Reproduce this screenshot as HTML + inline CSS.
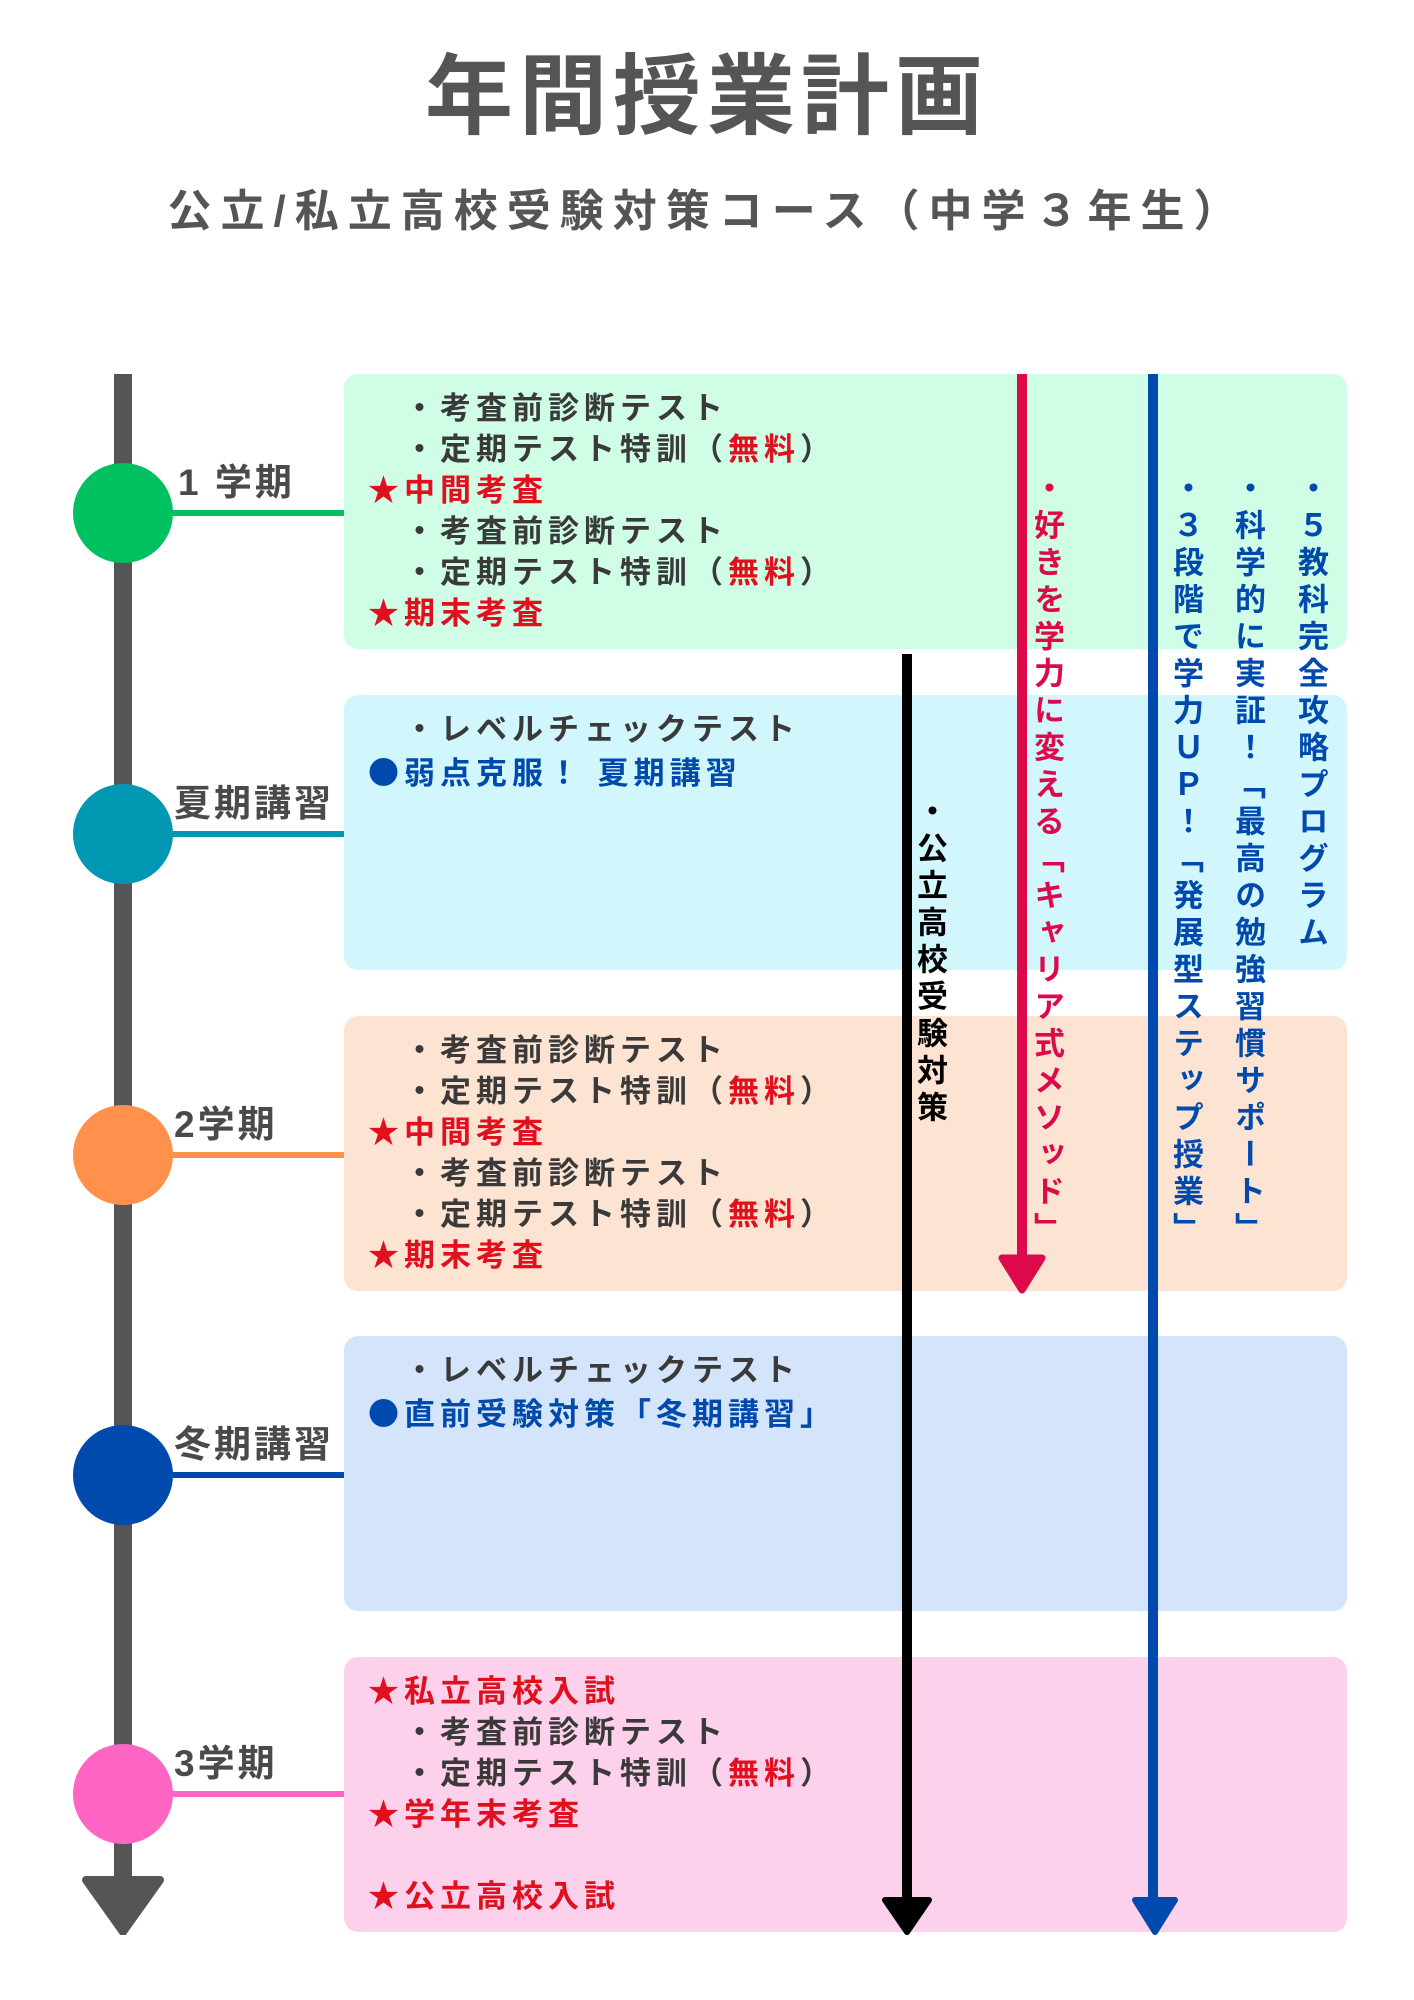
<!DOCTYPE html>
<html><head><meta charset="utf-8">
<style>
*{margin:0;padding:0;box-sizing:border-box}
body{width:1414px;height:2000px;background:#fff;position:relative;overflow:hidden;font-family:"Liberation Sans","Noto Sans CJK JP",sans-serif;font-weight:bold;color:#3a3a3a}
.a{position:absolute}
.box{position:absolute;left:344px;width:1003px;height:275px;border-radius:14px}
.ln{position:absolute;font-size:31px;letter-spacing:5px;line-height:41px;white-space:nowrap}
.r{color:#e0101e}
.c{font-family:"Noto Sans CJK JP",sans-serif}
.lbl{position:absolute;left:174px;font-size:37px;letter-spacing:3px;color:#4a4a4a;line-height:40px}
.circ{position:absolute;left:73px;width:100px;height:100px;border-radius:50%}
.con{position:absolute;left:150px;width:194px;height:6px}
.v{position:absolute;writing-mode:vertical-rl;font-size:31px;letter-spacing:6px;line-height:36px;white-space:nowrap}
</style></head><body>
<div class="a" style="left:0;width:1414px;top:42px;text-align:center;font-size:88px;letter-spacing:6px;color:#555;line-height:110px">年間授業計画</div>
<div class="a" style="left:0;width:1414px;top:184px;text-align:center;font-size:44px;letter-spacing:9px;color:#555;line-height:56px">公立/私立高校受験対策コース（中学３年生）</div>

<div class="box" style="top:374px;background:#cffde6"></div>
<div class="box" style="top:695px;background:#d1f7fd"></div>
<div class="box" style="top:1016px;background:#fde3d1"></div>
<div class="box" style="top:1336px;background:#d3e4fb"></div>
<div class="box" style="top:1657px;background:#fdd0ec"></div>

<div class="a" style="left:114px;top:374px;width:18px;height:1520px;background:#555"></div>
<svg class="a" style="left:80px;top:1875px" width="86" height="60"><path d="M6 5 L80 5 L43 57 Z" fill="#555" stroke="#555" stroke-width="8" stroke-linejoin="round"/></svg>

<div class="con" style="top:510px;background:#00c060"></div>
<div class="circ" style="top:463px;background:#00c060"></div>
<div class="lbl" style="top:463px;left:178px">1 学期</div>
<div class="con" style="top:831px;background:#0097b2"></div>
<div class="circ" style="top:784px;background:#0097b2"></div>
<div class="lbl" style="top:784px">夏期講習</div>
<div class="con" style="top:1152px;background:#ff914d"></div>
<div class="circ" style="top:1105px;background:#ff914d"></div>
<div class="lbl" style="top:1105px">2学期</div>
<div class="con" style="top:1472px;background:#004aad"></div>
<div class="circ" style="top:1425px;background:#004aad"></div>
<div class="lbl" style="top:1425px">冬期講習</div>
<div class="con" style="top:1791px;background:#ff66c4"></div>
<div class="circ" style="top:1744px;background:#ff66c4"></div>
<div class="lbl" style="top:1744px">3学期</div>

<div class="ln" style="left:368px;top:388px">　・考査前診断テスト<br>　・定期テスト特訓（<span class="r">無料</span>）<br><span class="r">★中間考査</span><br>　・考査前診断テスト<br>　・定期テスト特訓（<span class="r">無料</span>）<br><span class="r">★期末考査</span></div>
<div class="ln" style="left:368px;top:709px">　・レベルチェックテスト<br><span style="color:#004aad"><span class="c">●</span>弱点克服！ 夏期講習</span></div>
<div class="ln" style="left:368px;top:1030px">　・考査前診断テスト<br>　・定期テスト特訓（<span class="r">無料</span>）<br><span class="r">★中間考査</span><br>　・考査前診断テスト<br>　・定期テスト特訓（<span class="r">無料</span>）<br><span class="r">★期末考査</span></div>
<div class="ln" style="left:368px;top:1350px">　・レベルチェックテスト<br><span style="color:#004aad"><span class="c">●</span>直前受験対策「冬期講習」</span></div>
<div class="ln" style="left:368px;top:1671px"><span class="r">★私立高校入試</span><br>　・考査前診断テスト<br>　・定期テスト特訓（<span class="r">無料</span>）<br><span class="r">★学年末考査</span><br><br><span class="r">★公立高校入試</span></div>

<div class="a" style="left:902px;top:654px;width:10px;height:1250px;background:#000"></div>
<svg class="a" style="left:880px;top:1896px" width="54" height="40"><path d="M5 4 L49 4 L27 36 Z" fill="#000" stroke="#000" stroke-width="6" stroke-linejoin="round"/></svg>
<div class="a" style="left:1017px;top:374px;width:10px;height:890px;background:#dc0a4a"></div>
<svg class="a" style="left:997px;top:1254px" width="50" height="42"><path d="M5 4 L45 4 L25 36 Z" fill="#dc0a4a" stroke="#dc0a4a" stroke-width="7" stroke-linejoin="round"/></svg>
<div class="a" style="left:1148px;top:374px;width:10px;height:1530px;background:#004aad"></div>
<svg class="a" style="left:1130px;top:1896px" width="50" height="40"><path d="M5 4 L45 4 L25 36 Z" fill="#004aad" stroke="#004aad" stroke-width="6" stroke-linejoin="round"/></svg>

<div class="v" style="left:911px;top:795px;color:#000">・公立高校受験対策</div>
<div class="v" style="left:1028px;top:472px;color:#dc0a4a">・好きを学力に変える「キャリア式メソッド」</div>
<div class="v" style="left:1167px;top:472px;color:#004aad">・３段階で学力ＵＰ！「発展型ステップ授業」</div>
<div class="v" style="left:1229px;top:472px;color:#004aad">・科学的に実証！「最高の勉強習慣サポート」</div>
<div class="v" style="left:1292px;top:472px;color:#004aad">・５教科完全攻略プログラム</div>
</body></html>
